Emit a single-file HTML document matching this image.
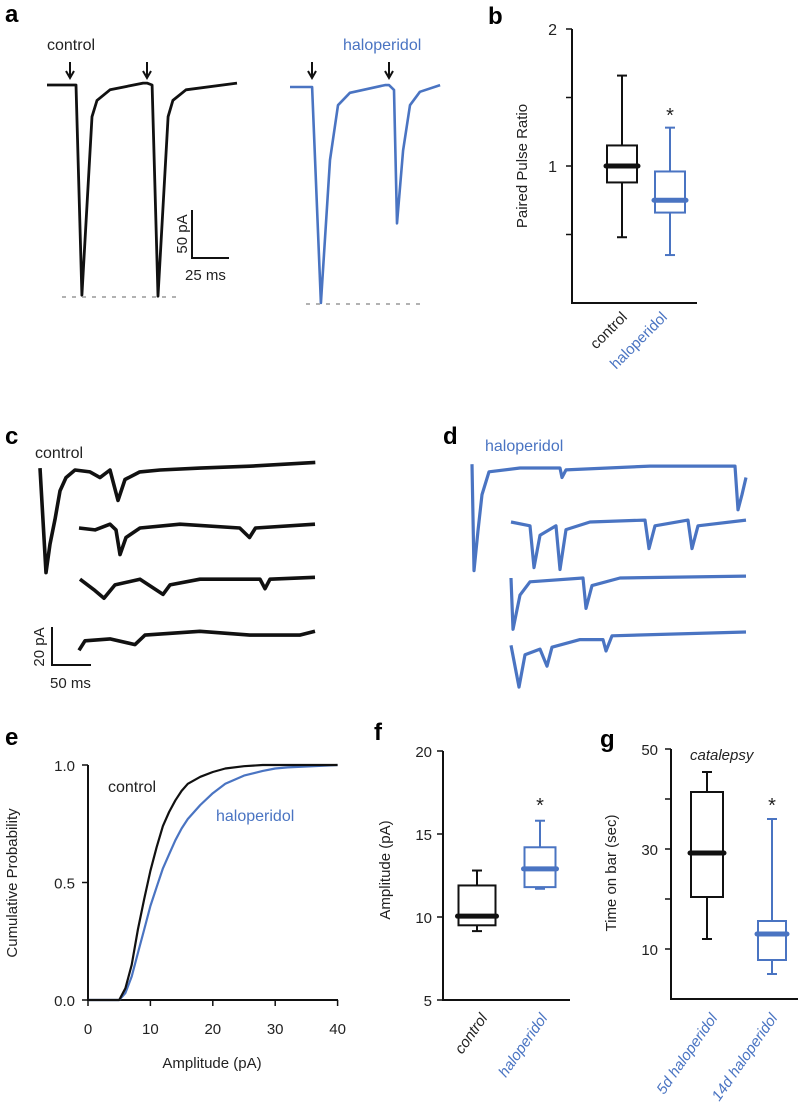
<!DOCTYPE html>
<html><head><meta charset="utf-8"><style>
html,body{margin:0;padding:0;background:#fff;}
svg{display:block;font-family:"Liberation Sans",sans-serif;}
</style></head><body>
<svg id="fig" width="798" height="1118" viewBox="0 0 798 1118" xmlns="http://www.w3.org/2000/svg"></svg>
<script>
const BLUE='#4a74c2';
// ---- panel a traces (ms, pA) ----
const aCtrlT=[0,19.6,23.6,30.4,33.8,42.6,64.9,67.6,71,75,81.8,85.1,93.9,128.4];
const aCtrlV=[0,0,-219,-33,-16,-5,2,2,0,-220,-33,-16,-5,2];
const aHaloT=[0,14.9,20.9,27,32.4,40.5,64.2,66.9,70.3,72.3,76.4,81.1,87.8,101.4];
const aHaloV=[0,0,-225,-76,-19,-6,2,2,-3,-142,-66,-19,-5,2];
// ---- panel c traces ----
const c1T=[0,7.7,12.8,19.2,25.6,33.3,44.9,64.1,76.9,89.7,100,109,128,154,205,269,353];
const c1V=[1,-54,-39,-26,-11,-4,0,-1,-4,0,-16,-5,-1,0,1,2,4];
const c2T=[0,20.5,39.7,47.4,52.6,60.3,78.2,129.5,206,218.6,226.3,302.6];
const c2V=[0,-1,2,-1,-14,-5,0,2,0,-5,0,2];
const c3T=[0,19.2,30.8,44.9,76.9,106.4,115.4,153.8,230.8,237.2,243.6,301.3];
const c3V=[2,-4,-8,-1,2,-6,-1,2,2,-3,2,3];
const c4T=[0,7.7,39.7,71.8,84.6,155,219,283,302.6];
const c4V=[-7,-2,-1,-4,1,3,1,1,3];
// ---- panel d traces ----
const d1T=[0,2.6,7.7,12.8,21.8,61.5,112.8,115.4,120.5,228.2,337.2,341,346.2,351.3];
const d1V=[2,-54,-33,-14,-2,0,0,-5,-1,1,1,-22,-14,-5];
const d2T=[0,24.4,29.5,37.2,57.7,62.8,70.5,101.3,171.8,176.9,184.6,226.9,232.1,239.7,301.3];
const d2V=[0,-2,-24,-7,-2,-25,-4,0,1,-14,-2,1,-14,-2,1];
const d3T=[0,2.6,11.5,24.4,92.3,96.2,103.8,139.7,301.3];
const d3V=[0,-27,-9,-2,0,-16,-4,0,1];
const d4T=[0,10.3,17.9,37.2,46.2,52.6,88.5,118,121.8,129.5,301.3];
const d4V=[-7,-29,-12,-9,-18,-8,-4,-4,-10,-2,0];
// ---- panel b box data ----
const bCats=['control','haloperidol'];
const bLow=[0.48,0.35],bQ1=[0.88,0.66],bMed=[1.0,0.75],bQ3=[1.15,0.96],bHigh=[1.66,1.28];
const bTicks=[0.5,1,1.5,2],bTickLabels=['','1','','2'];
// ---- panel e CDF ----
const eAmp=[0,5,6,7,8,9,10,11,12,13,14,15,16,18,20,22,25,28,30,32,40];
const eCtrl=[0,0,0.05,0.15,0.3,0.43,0.55,0.65,0.74,0.8,0.85,0.89,0.92,0.95,0.97,0.985,0.995,1,1,1,1];
const eHalo=[0,0,0.03,0.1,0.2,0.3,0.4,0.48,0.56,0.62,0.68,0.73,0.77,0.83,0.88,0.92,0.955,0.975,0.985,0.99,1];
const eXTicks=[0,10,20,30,40],eYTicks=[0,0.5,1],eYLabels=['0.0','0.5','1.0'];
// ---- panel f ----
const fCats=['control','haloperidol'];
const fLow=[9.15,11.7],fQ1=[9.5,11.8],fMed=[10.05,12.9],fQ3=[11.9,14.2],fHigh=[12.8,15.8];
const fTicks=[5,10,15,20];
// ---- panel g ----
const gCats=['5d haloperidol','14d haloperidol'];
const gLow=[12,5],gQ1=[20.4,7.8],gMed=[29.2,13],gQ3=[41.4,15.6],gHigh=[45.4,36];
const gTicks=[10,20,30,40,50],gTickLabels=['10','','30','','50'];

const svg=document.getElementById('fig');
const NS='http://www.w3.org/2000/svg';
function el(tag,attrs,parent){const e=document.createElementNS(NS,tag);for(const k in attrs)e.setAttribute(k,attrs[k]);(parent||svg).appendChild(e);return e;}
function txt(s,x,y,opt,parent){const t=el('text',Object.assign({x:x,y:y,'font-size':15,fill:'#222'},opt||{}),parent);t.textContent=s;return t;}
function grp(name){const g=el('g',{});return g;}

function trace(T,V,x0,y0,pxPerMs,pxPerPa,color,w,name,parent){
  let d='';for(let i=0;i<T.length;i++){d+=(i?'L':'M')+(x0+T[i]*pxPerMs).toFixed(1)+','+(y0-V[i]*pxPerPa).toFixed(1);}
  const p=el('path',{d:d,fill:'none',stroke:color,'stroke-width':w,'stroke-linejoin':'round'},parent);
  
  
  return p;
}
function label(s,x,y,name,opt){const t=txt(s,x,y,opt);return t;}

// panel letters
label('a',5,22,'panel-a-label',{'font-size':24,'font-weight':'bold',fill:'#000'});
label('b',488,24,'panel-b-label',{'font-size':24,'font-weight':'bold',fill:'#000'});
label('c',5,444,'panel-c-label',{'font-size':24,'font-weight':'bold',fill:'#000'});
label('d',443,444,'panel-d-label',{'font-size':24,'font-weight':'bold',fill:'#000'});
label('e',5,745,'panel-e-label',{'font-size':24,'font-weight':'bold',fill:'#000'});
label('f',374,740,'panel-f-label',{'font-size':24,'font-weight':'bold',fill:'#000'});
label('g',600,747,'panel-g-label',{'font-size':24,'font-weight':'bold',fill:'#000'});

// ---- panel a ----
const ga=grp('panel-a');
const aMs=1.48,aPa=0.96;
txt('control',47,50,{'font-size':16},ga);
txt('haloperidol',343,50,{'font-size':16,fill:BLUE},ga);
trace(aCtrlT,aCtrlV,47,85,aMs,aPa,'#111',2.8,'control-epsc-trace',ga);
trace(aHaloT,aHaloV,290,87,aMs,aPa,BLUE,2.6,'haloperidol-epsc-trace',ga);
[[70,62],[147,62],[312,62],[389,62]].forEach(p=>{
  const ar=el('path',{d:`M${p[0]},${p[1]}V${p[1]+14}M${p[0]-4},${p[1]+9}L${p[0]},${p[1]+16}L${p[0]+4},${p[1]+9}`,stroke:'#111','stroke-width':2,fill:'none'},ga);
  
  
});
const dl1=el('line',{x1:62,y1:297,x2:182,y2:297,stroke:'#999','stroke-width':1.5,'stroke-dasharray':'4,6'},ga);

const dl2=el('line',{x1:306,y1:304,x2:425,y2:304,stroke:'#999','stroke-width':1.5,'stroke-dasharray':'4,6'},ga);

const sba=el('path',{d:'M192,210V258H229',stroke:'#111','stroke-width':2,fill:'none'},ga);

txt('50 pA',187,234,{'font-size':15,transform:'rotate(-90 187 234)','text-anchor':'middle'},ga);
txt('25 ms',185,280,{'font-size':15},ga);

// ---- panel b ----
const gb=grp('panel-b');
const yB=v=>303-v*137;
const xB=[622,670];
el('path',{d:'M572,29V303H697',stroke:'#111','stroke-width':2,fill:'none'},gb);
bTicks.forEach((t,i)=>{el('line',{x1:566,x2:572,y1:yB(t),y2:yB(t),stroke:'#111','stroke-width':1.5},gb);
  if(bTickLabels[i])txt(bTickLabels[i],557,yB(t)+6,{'text-anchor':'end','font-size':16},gb);});
txt('Paired Pulse Ratio',527,166,{'font-size':15,transform:'rotate(-90 527 166)','text-anchor':'middle'},gb);
function box(g,cx,low,q1,med,q3,high,ys,w,color,name){
  const bg=el('g',{},g);
  
  
  el('line',{x1:cx,x2:cx,y1:ys(high),y2:ys(q3),stroke:color,'stroke-width':2},bg);
  el('line',{x1:cx,x2:cx,y1:ys(q1),y2:ys(low),stroke:color,'stroke-width':2},bg);
  el('line',{x1:cx-5,x2:cx+5,y1:ys(high),y2:ys(high),stroke:color,'stroke-width':2},bg);
  el('line',{x1:cx-5,x2:cx+5,y1:ys(low),y2:ys(low),stroke:color,'stroke-width':2},bg);
  el('rect',{x:cx-w/2,y:ys(q3),width:w,height:ys(q1)-ys(q3),fill:'#fff',stroke:color,'stroke-width':2},bg);
  el('line',{x1:cx-w/2-1,x2:cx+w/2+1,y1:ys(med),y2:ys(med),stroke:color,'stroke-width':5,'stroke-linecap':'round'},bg);
}
bCats.forEach((c,i)=>box(gb,xB[i],bLow[i],bQ1[i],bMed[i],bQ3[i],bHigh[i],yB,30,i?BLUE:'#111','box-'+c));
txt('*',670,122,{'font-size':20,'text-anchor':'middle'},gb);
txt('control',628,318,{'font-size':15,'text-anchor':'end',transform:'rotate(-45 628 318)'},gb);
txt('haloperidol',668,318,{'font-size':15,'text-anchor':'end',fill:BLUE,transform:'rotate(-45 668 318)'},gb);

// ---- panel c ----
const gc=grp('panel-c');
const cMs=0.78,cPa=1.9;
txt('control',35,458,{'font-size':16},gc);
trace(c1T,c1V,40,470,cMs,cPa,'#111',3.6,'control-trace-1',gc);
trace(c2T,c2V,79,528,cMs,cPa,'#111',3.6,'control-trace-2',gc);
trace(c3T,c3V,80,583,cMs,cPa,'#111',3.6,'control-trace-3',gc);
trace(c4T,c4V,79,637,cMs,cPa,'#111',3.6,'control-trace-4',gc);
const sbc=el('path',{d:'M52,627V665H91',stroke:'#111','stroke-width':2,fill:'none'},gc);

txt('20 pA',44,647,{'font-size':15,transform:'rotate(-90 44 647)','text-anchor':'middle'},gc);
txt('50 ms',50,688,{'font-size':15},gc);

// ---- panel d ----
const gd=grp('panel-d');
txt('haloperidol',485,451,{'font-size':16,fill:BLUE},gd);
trace(d1T,d1V,472,468,cMs,cPa,BLUE,3.2,'haloperidol-trace-1',gd);
trace(d2T,d2V,511,522,cMs,cPa,BLUE,3.2,'haloperidol-trace-2',gd);
trace(d3T,d3V,511,578,cMs,cPa,BLUE,3.2,'haloperidol-trace-3',gd);
trace(d4T,d4V,511,632,cMs,cPa,BLUE,3.2,'haloperidol-trace-4',gd);

// ---- panel e ----
const ge=grp('panel-e');
const xE=v=>88+v*6.24,yE=v=>1000-v*235;
el('path',{d:'M88,765V1000H338',stroke:'#111','stroke-width':2,fill:'none'},ge);
eYTicks.forEach((t,i)=>{el('line',{x1:82,x2:88,y1:yE(t),y2:yE(t),stroke:'#111','stroke-width':1.5},ge);
  txt(eYLabels[i],75,yE(t)+6,{'text-anchor':'end','font-size':15},ge);});
eXTicks.forEach(t=>{el('line',{x1:xE(t),x2:xE(t),y1:1000,y2:1006,stroke:'#111','stroke-width':1.5},ge);
  txt(String(t),xE(t),1034,{'text-anchor':'middle','font-size':15},ge);});
txt('Amplitude (pA)',212,1068,{'text-anchor':'middle','font-size':15},ge);
txt('Cumulative Probability',17,883,{'font-size':15,transform:'rotate(-90 17 883)','text-anchor':'middle'},ge);
function cdf(Y,color,name){let d='';eAmp.forEach((a,i)=>{d+=(i?'L':'M')+xE(a).toFixed(1)+','+yE(Y[i]).toFixed(1);});
  const p=el('path',{d:d,fill:'none',stroke:color,'stroke-width':2.2,'stroke-linejoin':'round'},ge);
  }
cdf(eHalo,BLUE,'haloperidol-cdf-line');
cdf(eCtrl,'#111','control-cdf-line');
txt('control',108,792,{'font-size':16},ge);
txt('haloperidol',216,821,{'font-size':16,fill:BLUE},ge);

// ---- panel f ----
const gf=grp('panel-f');
const yF=v=>1000-(v-5)*16.6;
el('path',{d:'M443,751V1000H570',stroke:'#111','stroke-width':2,fill:'none'},gf);
fTicks.forEach(t=>{el('line',{x1:437,x2:443,y1:yF(t),y2:yF(t),stroke:'#111','stroke-width':1.5},gf);
  txt(String(t),432,yF(t)+6,{'text-anchor':'end','font-size':15},gf);});
txt('Amplitude (pA)',390,870,{'font-size':15,transform:'rotate(-90 390 870)','text-anchor':'middle'},gf);
const xF=[477,540];
fCats.forEach((c,i)=>box(gf,xF[i],fLow[i],fQ1[i],fMed[i],fQ3[i],fHigh[i],yF,i?31:37,i?BLUE:'#111','box-f-'+c));
txt('*',540,812,{'font-size':20,'text-anchor':'middle'},gf);
txt('control',488,1018,{'font-size':15,'font-style':'italic','text-anchor':'end',transform:'rotate(-55 488 1018)'},gf);
txt('haloperidol',548,1018,{'font-size':15,'font-style':'italic','text-anchor':'end',fill:BLUE,transform:'rotate(-55 548 1018)'},gf);

// ---- panel g ----
const gg=grp('panel-g');
const yG=v=>999-v*5;
el('path',{d:'M671,749V999H798',stroke:'#111','stroke-width':2,fill:'none'},gg);
gTicks.forEach((t,i)=>{el('line',{x1:665,x2:671,y1:yG(t),y2:yG(t),stroke:'#111','stroke-width':1.5},gg);
  if(gTickLabels[i])txt(gTickLabels[i],658,yG(t)+6,{'text-anchor':'end','font-size':15},gg);});
txt('Time on bar (sec)',616,873,{'font-size':15,transform:'rotate(-90 616 873)','text-anchor':'middle'},gg);
txt('catalepsy',690,760,{'font-size':15,'font-style':'italic'},gg);
const xG=[707,772];
gCats.forEach((c,i)=>box(gg,xG[i],gLow[i],gQ1[i],gMed[i],gQ3[i],gHigh[i],yG,i?28:32,i?BLUE:'#111','box-g-'+c.replace(' ','-')));
txt('*',772,812,{'font-size':20,'text-anchor':'middle'},gg);
txt('5d haloperidol',718,1018,{'font-size':15,'font-style':'italic','text-anchor':'end',fill:BLUE,transform:'rotate(-55 718 1018)'},gg);
txt('14d haloperidol',778,1018,{'font-size':15,'font-style':'italic','text-anchor':'end',fill:BLUE,transform:'rotate(-55 778 1018)'},gg);
</script>
</body></html>
